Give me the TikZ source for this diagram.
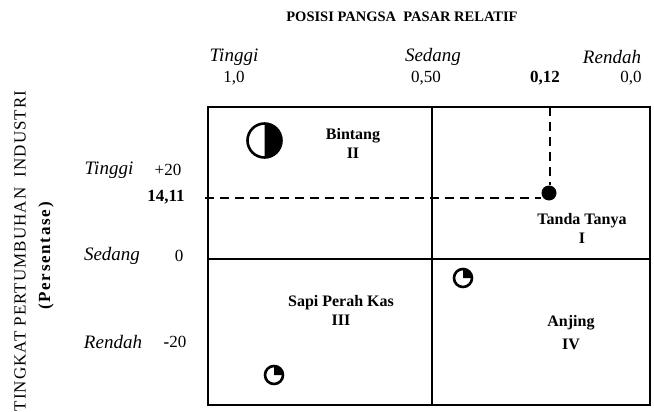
\documentclass[tikz,border=0pt]{standalone}
\usepackage{fontspec}
\setmainfont{Liberation Serif}
\begin{document}
\begin{tikzpicture}[x=1pt,y=-1pt,
  lbl/.style={inner sep=0pt, anchor=center},
  ital/.style={lbl, font=\fontsize{19}{22}\selectfont\itshape},
  num/.style={lbl, font=\fontsize{17}{20}\selectfont},
  bnum/.style={lbl, font=\fontsize{17}{20}\selectfont\bfseries},
  quad/.style={lbl, align=center, font=\fontsize{16}{19}\selectfont\bfseries},
  frame/.style={line width=1.8pt},
  guide/.style={line width=2.2pt, dash pattern=on 9pt off 6pt},
  ring/.style={line width=2.6pt},
]
\useasboundingbox (0,0) rectangle (654,412);
% title
\node[lbl, font=\fontsize{14.5}{17}\selectfont\bfseries] (title) at (402,17) {POSISI PANGSA\ \ PASAR RELATIF};
% top axis labels
\node[ital] (tTinggi) at (234,57) {Tinggi};
\node[num]  (t10) at (234,78) {1,0};
\node[ital] (tSedang) at (433,57) {Sedang};
\node[num]  (t050) at (426,78) {0,50};
\node[bnum] (t012) at (545,78) {0,12};
\node[ital] (tRendah) at (612,57) {Rendah};
\node[num]  (t00) at (631,78) {0,0};
% left axis labels
\node[lbl, rotate=90, font=\fontsize{17}{20}\selectfont\addfontfeatures{LetterSpace=6}] (ylab) at (20,251) {TINGKAT PERTUMBUHAN\ \ INDUSTRI};
\node[lbl, rotate=90, font=\fontsize{17}{20}\selectfont\bfseries\addfontfeatures{LetterSpace=10}] (ypct) at (46,256) {(Persentase)};
\node[ital] (lTinggi) at (109,170) {Tinggi};
\node[num]  (lp20) at (168,170) {+20};
\node[bnum] (l1411) at (166,197) {14,11};
\node[ital] (lSedang) at (112,256) {Sedang};
\node[num]  (l0) at (179,256) {0};
\node[ital] (lRendah) at (113,342) {Rendah};
\node[num]  (lm20) at (175,342) {\textbf{-}20};
% frame
\coordinate (tl) at (208,107);
\coordinate (br) at (650,405);
\coordinate (midtop) at (432,107);
\coordinate (midbot) at (432,405);
\coordinate (midl) at (208,259);
\coordinate (midr) at (650,259);
\draw[frame] (tl) rectangle (br);
\draw[frame] (midtop) -- (midbot);
\draw[frame] (midl) -- (midr);
% guide lines and point
\node[circle, fill=black, inner sep=0pt, minimum size=15pt] (pt) at (549,193) {};
\coordinate (vtop) at (550,107);
\coordinate (hleft) at (205,198);
\draw[guide] (vtop) -- (vtop |- pt.north);
\draw[guide] (hleft) -- (hleft -| pt.west);
% quadrant labels
\node[quad] (bintang) at (353,143) {Bintang\\II};
\node[quad] (tanda) at (582,228) {Tanda Tanya\\I};
\node[quad] (sapi) at (341,310) {Sapi Perah Kas\\III};
\node[quad, font=\fontsize{16}{23}\selectfont\bfseries] (anjing) at (571,333) {Anjing\\IV};
% symbols
\coordinate (star) at (264.5,140.5);
\fill[white] (star) circle[radius=17];
\fill[black] (star) ++(0,17) arc[start angle=90, end angle=-90, radius=17] -- cycle;
\draw[ring] (star) circle[radius=17];
\coordinate (dog) at (463,278);
\fill[black] (dog) -- ++(0,-9) arc[start angle=-90, end angle=0, radius=9] -- cycle;
\draw[ring] (dog) circle[radius=9];
\coordinate (cow) at (274,375);
\fill[black] (cow) -- ++(0,-9) arc[start angle=-90, end angle=0, radius=9] -- cycle;
\draw[ring] (cow) circle[radius=9];
\end{tikzpicture}
\end{document}
